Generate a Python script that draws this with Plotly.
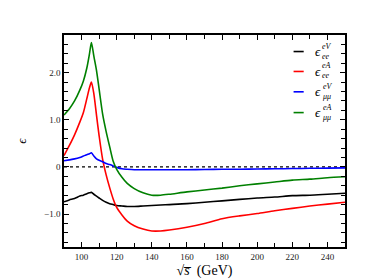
import plotly.graph_objects as go

sqrt_s = [90, 93, 96, 99, 101, 103, 104.5, 105.6, 107, 108.5, 110, 112, 114, 116, 118, 120,
          123, 126, 130, 135, 140, 145, 150, 160, 170, 180, 190, 200, 210, 220, 230, 240, 250]

eps_ee_eV = [-0.74, -0.70, -0.67, -0.62, -0.60, -0.57, -0.55, -0.54, -0.58, -0.62, -0.66, -0.71,
             -0.75, -0.78, -0.80, -0.82, -0.83, -0.84, -0.84, -0.83, -0.82, -0.81, -0.80, -0.78,
             -0.75, -0.72, -0.69, -0.66, -0.64, -0.61, -0.60, -0.58, -0.56]

eps_ee_eA = [0.24, 0.45, 0.68, 0.95, 1.15, 1.45, 1.68, 1.80, 1.55, 1.10, 0.66, 0.16, -0.17,
             -0.44, -0.68, -0.86, -1.02, -1.15, -1.25, -1.32, -1.36, -1.36, -1.34, -1.28, -1.20,
             -1.10, -1.04, -0.99, -0.93, -0.88, -0.83, -0.79, -0.75]

eps_mm_eV = [0.13, 0.15, 0.17, 0.20, 0.23, 0.26, 0.28, 0.30, 0.23, 0.17, 0.14, 0.11, 0.07, 0.05,
             0.02, -0.01, -0.04, -0.05, -0.06, -0.06, -0.06, -0.06, -0.06, -0.06, -0.055, -0.05,
             -0.05, -0.045, -0.04, -0.035, -0.03, -0.025, -0.02]

eps_mm_eA = [1.10, 1.23, 1.40, 1.63, 1.82, 2.10, 2.40, 2.64, 2.35, 2.05, 1.65, 1.12, 0.75, 0.43,
             0.12, -0.05, -0.22, -0.35, -0.46, -0.55, -0.60, -0.60, -0.58, -0.53, -0.49, -0.45,
             -0.40, -0.36, -0.32, -0.28, -0.26, -0.23, -0.21]

series_names = ["eps_ee_eV", "eps_ee_eA", "eps_mumu_eV", "eps_mumu_eA"]
legend_sup = ["eV", "eA", "eV", "eA"]
legend_sub = ["ee", "ee", "μμ", "μμ"]
series_values = [eps_ee_eV, eps_ee_eA, eps_mm_eV, eps_mm_eA]
series_colors = ["#000000", "#ff0000", "#0000ff", "#008000"]

x_ticks = [100, 120, 140, 160, 180, 200, 220, 240]
y_ticks = [-1, 0, 1, 2]
y_tick_labels = ["\u22121.0", "0", "1.0", "2.0"]

SERIF = "Liberation Serif, DejaVu Serif, serif"

fig = go.Figure()
fig.add_hline(y=0, line=dict(color="black", width=1.2, dash="dot"), layer="below")
for name, vals, col in zip(series_names, series_values, series_colors):
    fig.add_trace(go.Scatter(x=sqrt_s, y=vals, mode="lines", name=name, showlegend=False,
                             line=dict(color=col, width=1.6, shape="spline", smoothing=0.7)))

# hand-built legend (short samples, stacked super/subscripts as in the reference)
row_y = [0.922, 0.828, 0.732, 0.634]
for i, col in enumerate(series_colors):
    y = row_y[i]
    fig.add_shape(type="line", xref="paper", yref="paper", x0=0.817, x1=0.853, y0=y, y1=y,
                  line=dict(color=col, width=1.6))
    fig.add_annotation(xref="paper", yref="paper", x=0.903, y=y, xanchor="center", yanchor="middle",
                       text="<i>ϵ</i>", showarrow=False, borderpad=0,
                       font=dict(family=SERIF, size=13, color="black"))
    fig.add_annotation(xref="paper", yref="paper", x=0.914, y=y, xanchor="left", yanchor="middle",
                       yshift=0.5, align="left", showarrow=False, borderpad=0,
                       text="<i>" + legend_sup[i] + "</i><br><i>" + legend_sub[i] + "</i>",
                       font=dict(family=SERIF, size=8, color="black"))

axis_common = dict(showline=True, linecolor="black", linewidth=1.5, mirror="ticks",
                   ticks="inside", ticklen=5, tickwidth=1, tickcolor="black",
                   showgrid=False, zeroline=False,
                   tickfont=dict(family=SERIF, size=9, color="#222"))

fig.update_xaxes(range=[90, 250], tickvals=x_ticks,
                 minor=dict(dtick=10, tick0=90, ticks="inside", ticklen=4, tickcolor="black", showgrid=False),
                 title=dict(text="\u221a<i>s\u0305</i>  (GeV)",
                            font=dict(family=SERIF, size=14, color="black"), standoff=5),
                 **axis_common)
fig.update_yaxes(range=[-1.7, 2.8], tickvals=y_ticks, ticktext=y_tick_labels,
                 minor=dict(dtick=0.2, tick0=0, ticks="inside", ticklen=4, tickcolor="black", showgrid=False),
                 title=dict(text="<i>ϵ</i>", font=dict(family=SERIF, size=13, color="black"), standoff=15),
                 **axis_common)

fig.update_layout(
    width=374, height=280,
    margin=dict(l=47, r=37, t=27, b=28),
    paper_bgcolor="white", plot_bgcolor="white",
    showlegend=False,
)

fig.write_html("out.html")
